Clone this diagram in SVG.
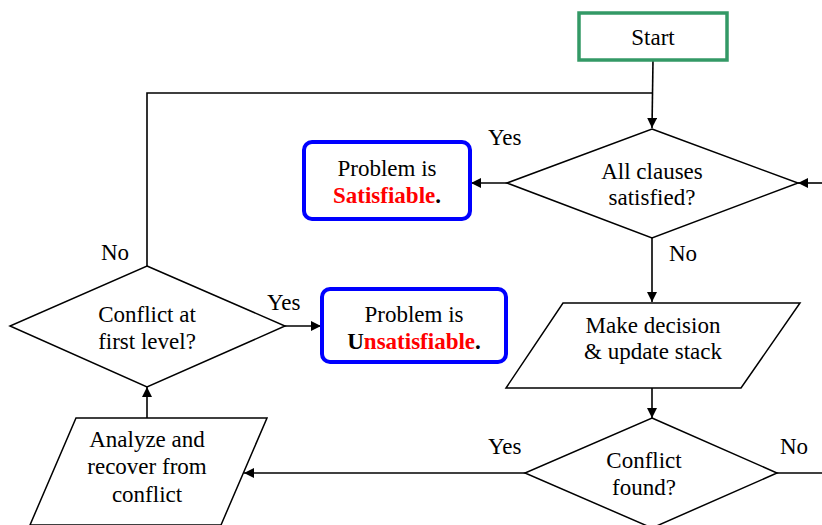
<svg xmlns="http://www.w3.org/2000/svg" width="822" height="525" viewBox="0 0 822 525">
  <defs>
    <marker id="arrow" viewBox="0 0 10 10" refX="10" refY="5" markerWidth="10" markerHeight="10" markerUnits="userSpaceOnUse" orient="auto">
      <path d="M0,0 L10,5 L0,10 z" fill="#000"/>
    </marker>
    <style>
      text { font-family: "Liberation Serif", "Times New Roman", serif; font-size: 23px; fill: #000; text-anchor: middle; }
      .lbl { text-anchor: start; }
      .shape { fill: #fff; stroke: #000; stroke-width: 1.5; }
      .edge { fill: none; stroke: #000; stroke-width: 1.6; }
      .arrow { marker-end: url(#arrow); }
      .result { fill: #fff; stroke: #0000ff; stroke-width: 4; }
      .red { fill: #ff0000; font-weight: bold; }
      .bold { font-weight: bold; }
    </style>
  </defs>
  <rect width="822" height="525" fill="#fff"/>

  <!-- connectors and branch labels -->
  <g id="connectors">
    <path class="edge arrow" d="M653,60 L652,128"/>
    <path class="edge" d="M147,266 L147,93 L652,93"/>
    <path class="edge arrow" d="M822,183 L798,183"/>
    <path class="edge arrow" d="M507,183 L471,183"/>
    <path class="edge arrow" d="M652,238 L652,302"/>
    <path class="edge arrow" d="M652,388 L652,418"/>
    <path class="edge" d="M777,473 L822,473"/>
    <path class="edge arrow" d="M525,473 L244,473"/>
    <path class="edge arrow" d="M147,418 L147,387"/>
    <path class="edge arrow" d="M285,326 L321,326"/>
    <text class="lbl" x="488" y="145">Yes</text>
    <text class="lbl" x="669" y="261">No</text>
    <text class="lbl" x="488" y="454">Yes</text>
    <text class="lbl" x="780" y="454">No</text>
    <text class="lbl" x="267" y="310">Yes</text>
    <text class="lbl" x="101" y="260">No</text>
  </g>

  <g id="start">
    <rect x="579" y="13" width="148" height="47" fill="#fff" stroke="#339966" stroke-width="3.5"/>
    <text x="653" y="45">Start</text>
  </g>

  <g id="all-clauses">
    <polygon class="shape" points="652,129 798,183 652,238 507,183"/>
    <text x="652" y="179">All clauses</text>
    <text x="652" y="205">satisfied?</text>
  </g>

  <g id="satisfiable">
    <rect class="result" x="304" y="142" width="166" height="77" rx="8"/>
    <text x="387" y="176">Problem is</text>
    <text x="387" y="203"><tspan class="red">Satisfiable</tspan><tspan class="bold">.</tspan></text>
  </g>

  <g id="decision">
    <polygon class="shape" points="563,303 800,303 741,388 506,388"/>
    <text x="653" y="333">Make decision</text>
    <text x="653" y="359">&amp; update stack</text>
  </g>

  <g id="conflict-found">
    <polygon class="shape" points="652,418 777,473 652,528 525,473"/>
    <text x="644" y="468">Conflict</text>
    <text x="644" y="495">found?</text>
  </g>

  <g id="analyze">
    <polygon class="shape" points="76,418 267,418 221,525 30,525"/>
    <text x="147" y="447">Analyze and</text>
    <text x="147" y="474">recover from</text>
    <text x="147" y="502">conflict</text>
  </g>

  <g id="first-level">
    <polygon class="shape" points="147,266 285,326 147,387 10,326"/>
    <text x="147" y="322">Conflict at</text>
    <text x="147" y="349">first level?</text>
  </g>

  <g id="unsatisfiable">
    <rect class="result" x="322" y="289" width="184" height="73" rx="8"/>
    <text x="414" y="322">Problem is</text>
    <text x="414" y="349"><tspan class="bold">U</tspan><tspan class="red">nsatisfiable</tspan><tspan class="bold">.</tspan></text>
  </g>
</svg>
